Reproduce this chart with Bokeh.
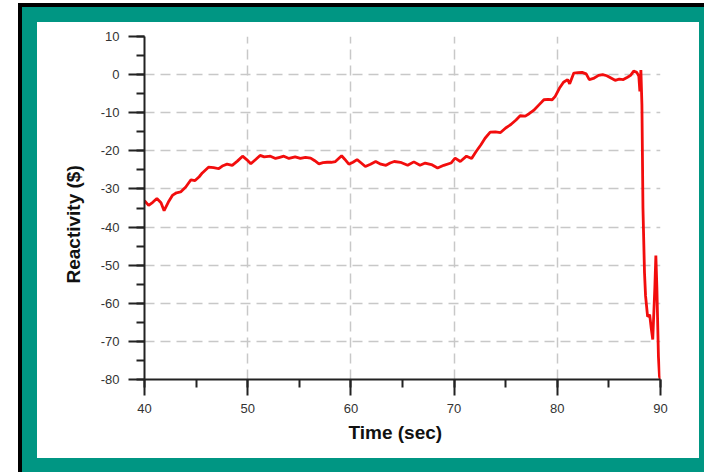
from bokeh.plotting import figure
from bokeh.models import Range1d, SingleIntervalTicker, CustomJSTickFormatter, Title
from bokeh.layouts import column
from bokeh.embed import file_html
from bokeh.resources import INLINE

# ---- data ----
time_s = [40.0, 40.4, 40.8, 41.2, 41.6, 41.9, 42.3, 42.7, 43.1, 43.5, 44.0, 44.5, 44.9,
          45.3, 45.6, 46.2, 46.7, 47.2, 47.6, 48.0, 48.5, 49.0, 49.5, 49.9, 50.3, 50.8,
          51.2, 51.6, 52.2, 52.7, 53.1, 53.5, 54.0, 54.6, 55.1, 55.6, 56.1, 56.5, 56.9,
          57.3, 57.7, 58.1, 58.5, 59.1, 59.4, 59.8, 60.2, 60.6, 61.0, 61.4, 61.9, 62.4,
          62.9, 63.4, 63.8, 64.2, 64.8, 65.5, 66.1, 66.7, 67.2, 67.8, 68.4, 69.0, 69.7,
          70.1, 70.6, 71.2, 71.7, 72.1, 72.6, 73.0, 73.5, 74.0, 74.5, 75.0, 75.5, 76.0,
          76.4, 76.9, 77.3, 77.7, 78.2, 78.7, 79.1, 79.5, 79.8, 80.2, 80.6, 81.0, 81.2,
          81.6, 82.0, 82.4, 82.8, 83.1, 83.5, 84.0, 84.4, 84.8, 85.2, 85.6, 86.0, 86.4,
          86.8, 87.1, 87.4, 87.7, 87.9, 88.0, 88.1, 88.2, 88.3, 88.45, 88.55, 88.75,
          88.95, 89.1, 89.25, 89.45, 89.55, 89.65, 89.8, 89.9, 90.0]
reactivity = [-33.1, -34.3, -33.5, -32.5, -33.6, -35.7, -33.5, -31.7, -31.0, -30.8, -29.5,
              -27.6, -27.8, -26.8, -25.8, -24.3, -24.4, -24.7, -23.9, -23.5, -23.8, -22.7,
              -21.4, -22.3, -23.4, -22.2, -21.2, -21.6, -21.4, -22.0, -21.7, -21.4, -22.0,
              -21.6, -22.0, -21.7, -21.9, -22.6, -23.4, -23.1, -23.0, -23.0, -22.8, -21.3,
              -22.2, -23.5, -23.0, -22.3, -23.2, -24.1, -23.5, -22.8, -23.5, -23.8, -23.2,
              -22.8, -23.0, -23.8, -22.9, -23.8, -23.2, -23.6, -24.5, -23.8, -23.2, -21.9,
              -22.8, -21.4, -22.0, -20.3, -18.4, -16.7, -15.1, -15.0, -15.2, -14.0, -13.1,
              -11.9, -10.8, -10.9, -10.2, -9.4, -8.0, -6.6, -6.5, -6.6, -5.7, -3.6, -2.0,
              -1.3, -2.4, 0.4, 0.5, 0.6, 0.2, -1.3, -1.0, -0.2, 0.0, -0.3, -0.9, -1.5,
              -1.2, -1.3, -0.7, -0.2, 0.9, 0.6, -0.4, -4.4, 1.2, -8.0, -35.0, -52.0,
              -58.0, -63.5, -63.0, -66.5, -69.5, -56.0, -47.5, -56.0, -74.0, -79.2, -80.0]

x_ticks_interval = 10
y_ticks_interval = 10
x_title = "Time (sec)"
y_title = "Reactivity ($)"

TEAL = "#009683"
FONT = "Liberation Sans"

p = figure(width=662, height=436, output_backend="svg", toolbar_location=None,
           x_range=Range1d(40, 90), y_range=Range1d(-80, 10),
           min_border_left=107, min_border_right=39, min_border_top=14, min_border_bottom=79)
p.outline_line_color = None
p.background_fill_color = "white"
p.border_fill_color = "white"
p.styles = {"background-color": "white"}

p.line(time_s, reactivity, line_color="#f20d0d", line_width=2.8)

fmt = CustomJSTickFormatter(code="return String(tick);")
for ax, iv in ((p.xaxis[0], x_ticks_interval), (p.yaxis[0], y_ticks_interval)):
    ax.ticker = SingleIntervalTicker(interval=iv, num_minor_ticks=2)
    ax.formatter = fmt
    ax.axis_line_color = "#222222"
    ax.axis_line_width = 2
    ax.major_tick_line_color = "#222222"
    ax.major_tick_line_width = 2
    ax.minor_tick_line_color = "#222222"
    ax.minor_tick_line_width = 2
    ax.major_tick_out = 16
    ax.major_tick_in = 0
    ax.minor_tick_out = 8
    ax.minor_tick_in = 0
    ax.major_label_text_font = FONT
    ax.major_label_text_font_size = "13px"
    ax.major_label_text_color = "#333333"

p.xaxis.major_label_standoff = 8
p.yaxis.major_label_standoff = 9

for g in (p.xgrid[0], p.ygrid[0]):
    g.grid_line_color = "#c8c8c8"
    g.grid_line_width = 1.5
    g.grid_line_dash = "10 6"
    g.ticker = SingleIntervalTicker(interval=10)

xt = Title(text=x_title, align="left", offset=204, standoff=8,
           text_font=FONT, text_font_size="19px", text_font_style="bold", text_color="#111111")
yt = Title(text=y_title, align="left", offset=96, standoff=28,
           text_font=FONT, text_font_size="19px", text_font_style="bold", text_color="#111111")
p.add_layout(xt, "below")
p.add_layout(yt, "left")

lay = column(p, margin=(3, 0, 0, 18),
             styles={"background-color": TEAL, "border": "4px solid #000000",
                     "padding": "15px 20px 20px 15px"})

open("out.html", "w").write(file_html(lay, INLINE))
